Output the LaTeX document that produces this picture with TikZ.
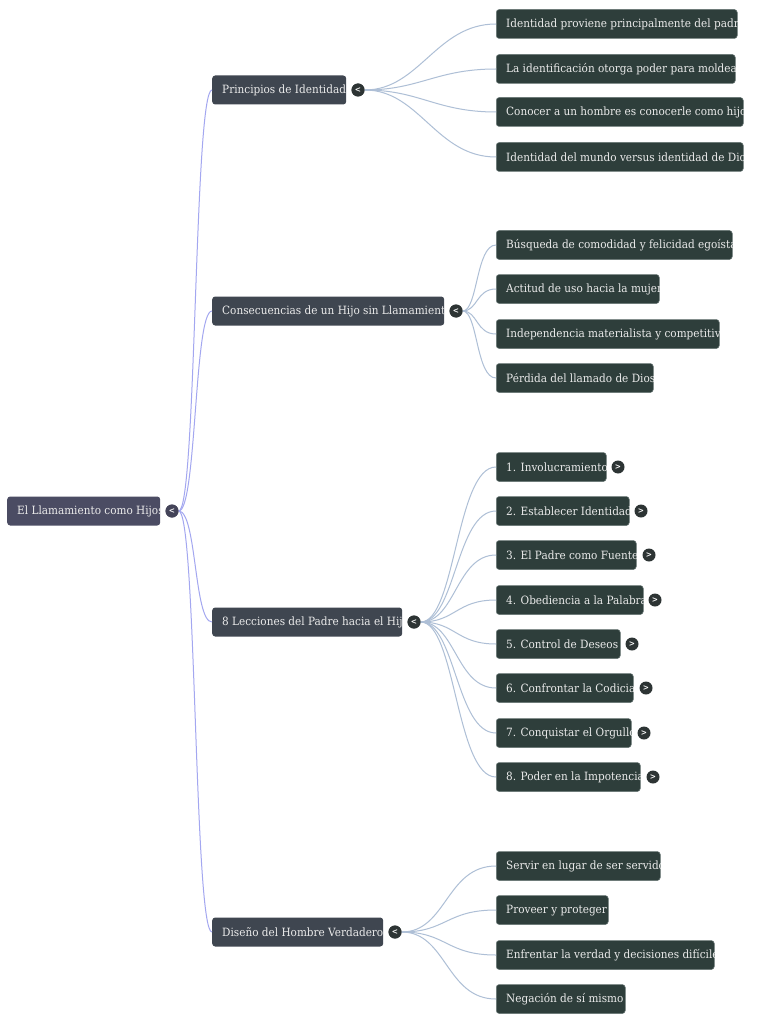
\documentclass[tikz,border=0pt]{standalone}
\usepackage{fontspec}
\setmainfont[FakeStretch=0.92]{DejaVu Serif}
\definecolor{rootfill}{HTML}{4B4C63}
\definecolor{midfill}{HTML}{3F4650}
\definecolor{leaffill}{HTML}{2E3E3B}
\definecolor{leafline}{HTML}{6A7876}
\definecolor{togfill}{HTML}{2D3434}
\definecolor{txtcol}{HTML}{EBEBEB}
\definecolor{rootedge}{HTML}{A3A7F0}
\definecolor{leafedge}{HTML}{AEBFD6}
\tikzset{
  rootbox/.style={fill=rootfill, rounded corners=3pt, inner sep=0pt, minimum height=29pt},
  midbox/.style={fill=midfill, rounded corners=3pt, inner sep=0pt, minimum height=29pt},
  leafbox/.style={fill=leaffill, draw=leafline, line width=0.5pt, rounded corners=3pt, inner sep=0pt, minimum height=29pt},
  txt/.style={text=txtcol, font=\fontsize{11.4}{13}\selectfont, inner sep=0pt},
  tog/.style={circle, fill=togfill, text=white, inner sep=0pt, minimum size=13pt, font=\fontsize{8}{9}\selectfont\bfseries},
  redge/.style={draw=rootedge, line width=1pt},
  ledge/.style={draw=leafedge, line width=1pt},
}
\newcommand{\mmbox}[6]{%
  \node[#2, minimum width={#4-#3}, anchor=west] (#1) at (#3,#5) {};
  \begin{scope}
    \clip (#1.south west) rectangle (#1.north east);
    \node[txt, anchor=west] (#1-t) at ([xshift=10pt,yshift=-0.5pt]#1.west) {#6};
  \end{scope}}
\begin{document}
\begin{tikzpicture}[x=1pt,y=-1pt]
\useasboundingbox (0,0) rectangle (769,1024);
\fill[white] (0,0) rectangle (769,1024);

% root
\mmbox{root}{rootbox}{7}{160}{511}{El Llamamiento como Hijos}
% level 1
\mmbox{p1}{midbox}{212}{346}{90}{Principios de Identidad}
\mmbox{p2}{midbox}{212}{444}{311}{Consecuencias de un Hijo sin Llamamiento}
\mmbox{p3}{midbox}{212}{402}{622}{8 Lecciones del Padre hacia el Hijo}
\mmbox{p4}{midbox}{212}{383}{932}{Diseño del Hombre Verdadero}

% leaves group 1
\mmbox{a1}{leafbox}{496}{737}{24}{Identidad proviene principalmente del padre}
\mmbox{a2}{leafbox}{496}{735}{69}{La identificación otorga poder para moldear}
\mmbox{a3}{leafbox}{496}{743}{112}{Conocer a un hombre es conocerle como hijo}
\mmbox{a4}{leafbox}{496}{743}{157}{Identidad del mundo versus identidad de Dios}
% group 2
\mmbox{b1}{leafbox}{496}{732}{245}{Búsqueda de comodidad y felicidad egoísta}
\mmbox{b2}{leafbox}{496}{659}{289}{Actitud de uso hacia la mujer}
\mmbox{b3}{leafbox}{496}{719}{334}{Independencia materialista y competitiva}
\mmbox{b4}{leafbox}{496}{653}{378}{Pérdida del llamado de Dios}
% group 3
\mmbox{c1}{leafbox}{496}{606}{467}{1. Involucramiento}
\mmbox{c2}{leafbox}{496}{629}{511}{2. Establecer Identidad}
\mmbox{c3}{leafbox}{496}{636}{555}{3. El Padre como Fuente}
\mmbox{c4}{leafbox}{496}{643}{600}{4. Obediencia a la Palabra}
\mmbox{c5}{leafbox}{496}{620}{644}{5. Control de Deseos}
\mmbox{c6}{leafbox}{496}{633}{688}{6. Confrontar la Codicia}
\mmbox{c7}{leafbox}{496}{631}{733}{7. Conquistar el Orgullo}
\mmbox{c8}{leafbox}{496}{640}{777}{8. Poder en la Impotencia}
% group 4
\mmbox{d1}{leafbox}{496}{660}{866}{Servir en lugar de ser servido}
\mmbox{d2}{leafbox}{496}{608}{910}{Proveer y proteger}
\mmbox{d3}{leafbox}{496}{714}{955}{Enfrentar la verdad y decisiones difíciles}
\mmbox{d4}{leafbox}{496}{625}{999}{Negación de sí mismo}

% toggles
\node[tog, fill=rootfill!90!black] (troot) at (172,511) {<};
\node[tog] (tp1) at (358,90) {<};
\node[tog] (tp2) at (456,311) {<};
\node[tog] (tp3) at (414,622) {<};
\node[tog] (tp4) at (395,932) {<};
\node[tog] (tc1) at (618,467) {>};
\node[tog] (tc2) at (641,511) {>};
\node[tog] (tc3) at (649,555) {>};
\node[tog] (tc4) at (655,600) {>};
\node[tog] (tc5) at (632,644) {>};
\node[tog] (tc6) at (646,688) {>};
\node[tog] (tc7) at (644,733) {>};
\node[tog] (tc8) at (653,777) {>};

% edges
\foreach \p in {p1,p2,p3,p4}
  \draw[redge] (troot.east) .. controls +(18,0) and +(-18,0) .. (\p.west);
\foreach \l in {a1,a2,a3,a4}
  \draw[ledge] (tp1.east) .. controls +(55,0) and +(-60,0) .. (\l.west);
\foreach \l in {b1,b2,b3,b4}
  \draw[ledge] (tp2.east) .. controls +(15,0) and +(-20,0) .. (\l.west);
\foreach \l in {c1,c2,c3,c4,c5,c6,c7,c8}
  \draw[ledge] (tp3.east) .. controls +(35,0) and +(-40,0) .. (\l.west);
\foreach \l in {d1,d2,d3,d4}
  \draw[ledge] (tp4.east) .. controls +(45,0) and +(-50,0) .. (\l.west);
% toggles on top of edges
\node[tog, fill=rootfill!90!black] at (troot) {<};
\node[tog] at (tp1) {<};
\node[tog] at (tp2) {<};
\node[tog] at (tp3) {<};
\node[tog] at (tp4) {<};
\end{tikzpicture}
\end{document}
